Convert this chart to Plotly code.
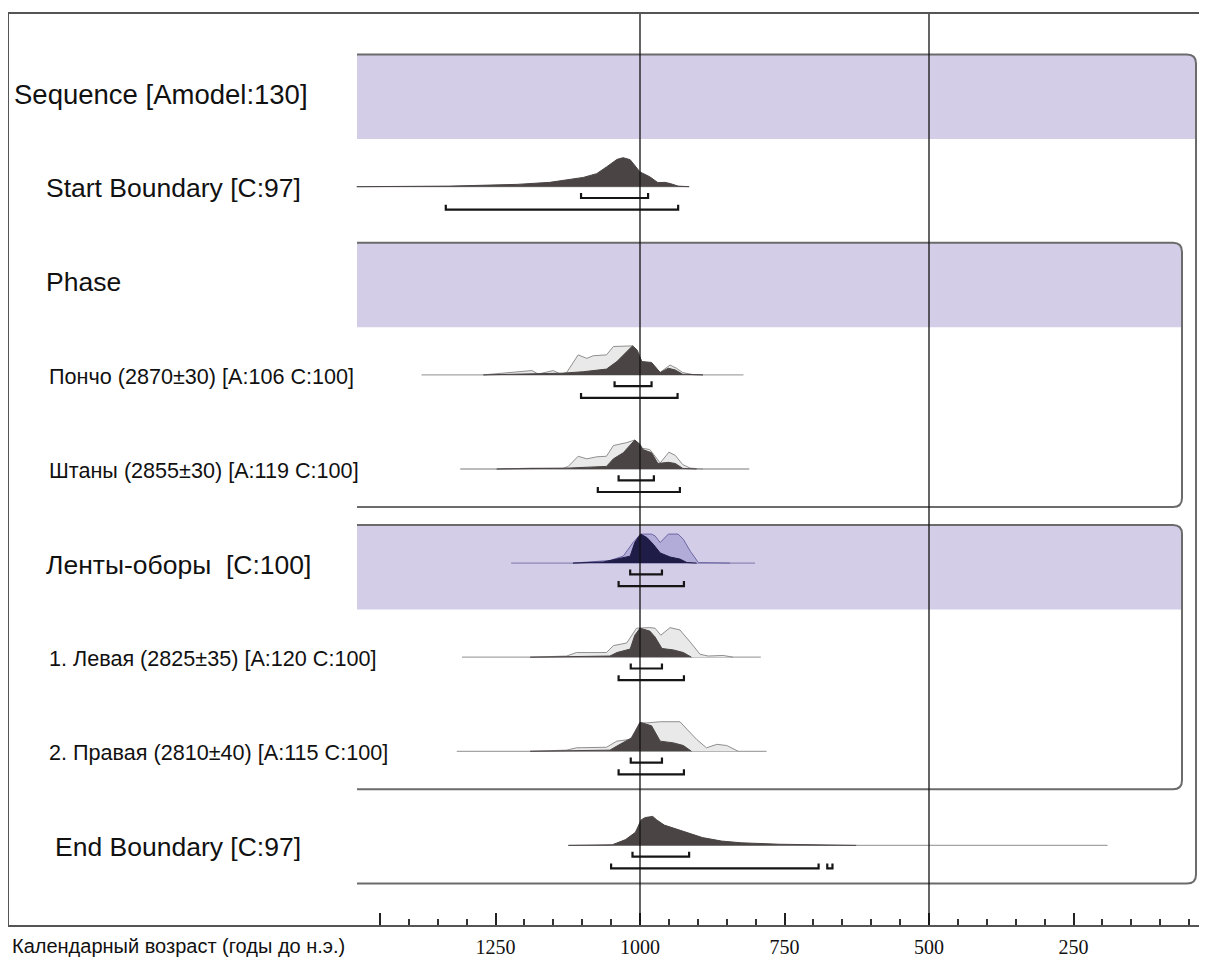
import plotly.graph_objects as go

# ---------------- data ----------------
ROW_LABELS = ["Sequence [Amodel:130]", "Start Boundary [C:97]", "Phase",
              "Пончо (2870±30) [A:106 C:100]", "Штаны (2855±30) [A:119 C:100]",
              "Ленты-оборы  [C:100]", "1. Левая (2825±35) [A:120 C:100]",
              "2. Правая (2810±40) [A:115 C:100]", "End Boundary [C:97]"]

# Start Boundary (posterior only)
start_yr = [1490, 1329, 1213, 1156, 1098, 1075, 1058, 1046, 1040, 1035, 1029, 1017, 1009, 1000, 983, 969, 957, 948, 934, 915]
start_p = [0, 0.02, 0.08, 0.15, 0.32, 0.45, 0.68, 0.85, 0.94, 0.97, 1.0, 0.93, 0.74, 0.51, 0.34, 0.14, 0.15, 0.11, 0.02, 0]

# Пончо
poncho_prior_yr = [1271, 1187, 1176, 1150, 1138, 1127, 1107, 1092, 1081, 1058, 1046, 1012, 1005, 995, 980, 965, 948, 937, 926, 908, 891]
poncho_prior_p = [0, 0.15, 0.03, 0.15, 0.03, 0.08, 0.69, 0.57, 0.66, 0.69, 0.98, 1.0, 0.8, 0.40, 0.40, 0.09, 0.34, 0.23, 0.08, 0.01, 0]
poncho_post_yr = [1271, 1208, 1133, 1098, 1058, 1040, 1023, 1013, 1005, 997, 980, 974, 965, 951, 939, 926, 891]
poncho_post_p = [0, 0.02, 0.06, 0.11, 0.2, 0.46, 0.80, 1.0, 0.86, 0.46, 0.43, 0.29, 0.08, 0.23, 0.17, 0.02, 0]

# Штаны
shtany_prior_yr = [1248, 1185, 1133, 1124, 1107, 1092, 1075, 1058, 1046, 1023, 1009, 1000, 983, 974, 965, 950, 939, 926, 913, 891]
shtany_prior_p = [0, 0.03, 0.02, 0.09, 0.44, 0.35, 0.42, 0.44, 0.81, 0.91, 1.0, 0.73, 0.67, 0.44, 0.21, 0.58, 0.47, 0.15, 0.03, 0]
shtany_post_yr = [1248, 1179, 1127, 1058, 1046, 1029, 1009, 1000, 995, 980, 969, 951, 939, 926, 902]
shtany_post_p = [0, 0.03, 0.03, 0.09, 0.35, 0.56, 1.0, 0.85, 0.67, 0.56, 0.19, 0.23, 0.19, 0.02, 0]

# Ленты-оборы (combine)
lenty_prior_yr = [1116, 1052, 1029, 1012, 999, 980, 974, 965, 951, 934, 925, 913, 899, 867, 844]
lenty_prior_p = [0, 0.09, 0.24, 0.71, 1.0, 1.0, 0.94, 0.71, 1.0, 1.0, 0.82, 0.41, 0.02, 0.02, 0]
lenty_post_yr = [1116, 1063, 1040, 1017, 1009, 999, 988, 977, 965, 948, 931, 919, 902]
lenty_post_p = [0, 0.04, 0.14, 0.24, 0.71, 1.0, 0.88, 0.65, 0.35, 0.21, 0.14, 0.02, 0]

# 1. Левая
left_prior_yr = [1190, 1127, 1110, 1058, 1046, 1023, 1006, 983, 974, 964, 948, 931, 913, 896, 882, 856, 839]
left_prior_p = [0, 0.04, 0.16, 0.16, 0.40, 0.49, 1.0, 1.02, 1.0, 0.76, 1.02, 0.94, 0.52, 0.10, 0.04, 0.06, 0]
left_post_yr = [1190, 1052, 1040, 1017, 1009, 1000, 983, 974, 962, 942, 925, 911]
left_post_p = [0, 0.04, 0.16, 0.28, 0.76, 1.0, 0.90, 0.70, 0.30, 0.25, 0.16, 0]

# 2. Правая
right_prior_yr = [1190, 1127, 1110, 1058, 1040, 1017, 1000, 988, 965, 931, 902, 885, 867, 850, 830]
right_prior_p = [0, 0.04, 0.12, 0.14, 0.35, 0.41, 0.98, 0.98, 1.02, 1.02, 0.41, 0.12, 0.24, 0.2, 0]
right_post_yr = [1190, 1052, 1040, 1014, 1000, 980, 965, 942, 925, 911]
right_post_p = [0, 0.04, 0.18, 0.47, 1.0, 0.88, 0.35, 0.29, 0.2, 0]

# End Boundary (posterior only)
end_yr = [1124, 1048, 1025, 1008, 998, 991, 978, 971, 958, 938, 912, 892, 859, 825, 759, 693, 626]
end_p = [0, 0.02, 0.2, 0.45, 0.88, 0.96, 1.0, 0.88, 0.70, 0.57, 0.39, 0.27, 0.15, 0.09, 0.04, 0.01, 0]

# horizontal extent of the thin base line of each distribution (years BC)
base_from = {1: 1490, 3: 1378, 4: 1311, 5: 1223, 6: 1308, 7: 1317, 8: 1124}
base_to = {1: 915, 3: 821, 4: 811, 5: 801, 6: 791, 7: 781, 8: 191}

# 68.2% and 95.4% ranges (years BC)
range68 = {1: [(1102, 986)], 3: [(1044, 980)], 4: [(1037, 976)], 5: [(1017, 962)],
           6: [(1016, 962)], 7: [(1016, 962)], 8: [(1013, 915)]}
range95 = {1: [(1336, 934)], 3: [(1102, 935)], 4: [(1073, 931)], 5: [(1037, 924)],
           6: [(1037, 924)], 7: [(1037, 924)], 8: [(1050, 691), (676, 667)]}

MAJOR_TICKS = [1450, 1250, 1000, 750, 500, 250]
MAJOR_TEXT = ["", "1250", "1000", "750", "500", "250"]
MINOR_TICKS = [v for v in range(1450, 0, -50) if v not in MAJOR_TICKS]

# ---------------- geometry ----------------
# the page body has an 8px margin, so the figure sits at (8, 8) in the window
PAGE_OFF = 8
W, H = 1207 - PAGE_OFF, 962 - PAGE_OFF
PLOT_L, PLOT_R, PLOT_T, PLOT_B = 9, 1207, 14, 925       # window pixels
ML, MR, MT, MB = PLOT_L - PAGE_OFF, 0, PLOT_T - PAGE_OFF, 962 - PLOT_B
PX1000, PPY = 640.0, 0.578


def yr(px):
    return 1000 - (px - PX1000) / PPY


def xpaper(px):
    return (px - PLOT_L) / (PLOT_R - PLOT_L)


BASE0, PITCH = 92.6, 94.1


def base(i):
    return BASE0 + PITCH * i


DIST_H = 29
LEFT_PX = 357

fig = go.Figure()

BAND = "#d4cde7"
BOX = "#6b6b6b"
R = 9
shapes = []


def band_path(top, bot, right_px):
    xl, xr = yr(LEFT_PX), yr(right_px)
    xc = yr(right_px - R)
    return (f"M {xl},{top} L {xc},{top} Q {xr},{top} {xr},{top + R} "
            f"L {xr},{bot} L {xl},{bot} Z")


def box_path(top, bot, right_px):
    xl, xr = yr(LEFT_PX), yr(right_px)
    xc = yr(right_px - R)
    return (f"M {xl},{top} L {xc},{top} Q {xr},{top} {xr},{top + R} "
            f"L {xr},{bot - R} Q {xr},{bot} {xc},{bot} L {xl},{bot}")


groups = [(0, 8, 1196), (2, 4, 1182), (5, 7, 1182)]
for r0, r1, rpx in groups:
    shapes.append(dict(type="path", path=band_path(base(r0) - 38, base(r0) + 46.5, rpx),
                       xref="x", yref="y", fillcolor=BAND, line=dict(width=0), layer="below"))
for r0, r1, rpx in groups:
    shapes.append(dict(type="path", path=box_path(base(r0) - 38, base(r1) + 38, rpx),
                       xref="x", yref="y", line=dict(color=BOX, width=2), layer="above"))

for v in (1000, 500):
    shapes.append(dict(type="line", x0=v, x1=v, xref="x", yref="paper", y0=0, y1=1,
                       line=dict(color="#111111", width=1.3), layer="above"))


def add_dist(xs, ps, row, fill, edge):
    b = base(row)
    fig.add_trace(go.Scatter(x=xs, y=[b - p * DIST_H for p in ps], mode="lines",
                             fill="toself", fillcolor=fill,
                             line=dict(color=edge, width=1), hoverinfo="skip"))


for row in base_from:
    col = "#8d87b5" if row == 5 else "#a5a5a5"
    fig.add_trace(go.Scatter(x=[base_from[row], base_to[row]], y=[base(row), base(row)],
                             mode="lines", line=dict(color=col, width=1.3), hoverinfo="skip"))

LIGHT, LIGHT_EDGE = "#e9e9e9", "#8f8f8f"
DARK = "#4a4444"
add_dist(start_yr, start_p, 1, DARK, DARK)
add_dist(poncho_prior_yr, poncho_prior_p, 3, LIGHT, LIGHT_EDGE)
add_dist(poncho_post_yr, poncho_post_p, 3, DARK, DARK)
add_dist(shtany_prior_yr, shtany_prior_p, 4, LIGHT, LIGHT_EDGE)
add_dist(shtany_post_yr, shtany_post_p, 4, DARK, DARK)
add_dist(lenty_prior_yr, lenty_prior_p, 5, "#b2acd8", "#6c67a4")
add_dist(lenty_post_yr, lenty_post_p, 5, "#1f1c48", "#1f1c48")
add_dist(left_prior_yr, left_prior_p, 6, LIGHT, LIGHT_EDGE)
add_dist(left_post_yr, left_post_p, 6, DARK, DARK)
add_dist(right_prior_yr, right_prior_p, 7, LIGHT, LIGHT_EDGE)
add_dist(right_post_yr, right_post_p, 7, DARK, DARK)
add_dist(end_yr, end_p, 8, DARK, DARK)

for ranges, off in ((range68, 11.3), (range95, 23.0)):
    for row, segs in ranges.items():
        yb = base(row) + off
        for a, b in segs:
            fig.add_trace(go.Scatter(x=[a, a, b, b], y=[yb - 5, yb, yb, yb - 5], mode="lines",
                                     line=dict(color="#151515", width=2.2), hoverinfo="skip"))

label_left = [12, 44, 44, 47, 47, 44, 47, 47, 53]
label_size = [27.5, 26.5, 26.5, 21.6, 21.6, 26.5, 21.6, 21.6, 26.5]
annotations = []
for i, t in enumerate(ROW_LABELS):
    annotations.append(dict(text=t, xref="paper", x=xpaper(label_left[i]), xanchor="left",
                            yref="y", y=base(i) + 1.5, yanchor="middle", showarrow=False,
                            font=dict(family="Liberation Sans", size=label_size[i], color="#111111")))
annotations.append(dict(text="Календарный возраст (годы до н.э.)", xref="paper", x=xpaper(10),
                        xanchor="left", yref="paper",
                        y=(PLOT_B - 946) / (PLOT_B - PLOT_T),
                        yanchor="middle", showarrow=False,
                        font=dict(family="Liberation Sans", size=20, color="#111111")))

fig.update_layout(
    width=W, height=H, margin=dict(l=ML, r=MR, t=MT, b=MB, pad=0),
    plot_bgcolor="white", paper_bgcolor="white", showlegend=False,
    shapes=shapes, annotations=annotations,
    xaxis=dict(range=[yr(PLOT_L), yr(PLOT_R)], showgrid=False, zeroline=False,
               showline=True, linecolor="#555555", linewidth=2, mirror=True,
               tickmode="array", tickvals=MAJOR_TICKS, ticktext=MAJOR_TEXT,
               ticks="inside", ticklen=12, tickwidth=2, tickcolor="#222222",
               tickfont=dict(family="Liberation Serif", size=20, color="#111111"),
               ticklabelstandoff=3,
               minor=dict(tickmode="array", tickvals=MINOR_TICKS, ticks="inside",
                          ticklen=6, tickwidth=1.5, tickcolor="#333333", showgrid=False)),
    yaxis=dict(range=[PLOT_B, PLOT_T], showgrid=False, zeroline=False, showline=True,
               linecolor="#555555", linewidth=2, showticklabels=False, ticks=""),
)

fig.write_html("out.html")
